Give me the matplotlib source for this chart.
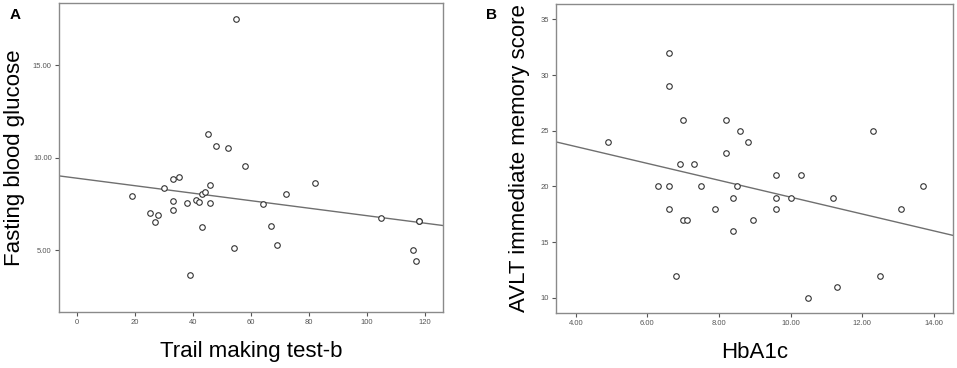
import numpy as np
import matplotlib.pyplot as plt

# Panel A: Trail making test-b vs fasting blood glucose
tmt_b = [55, 19, 25, 28, 27, 30, 33, 35, 33, 33, 38, 39, 41, 42, 43, 44, 43, 46, 46,
         45, 48, 52, 58, 54, 64, 67, 69, 72, 82, 105, 118, 118, 116, 117]
fbg = [17.5, 7.94, 7.02, 6.90, 6.52, 8.34, 8.86, 8.97, 7.64, 7.18, 7.56, 3.65, 7.73, 7.62,
       8.01, 8.14, 6.23, 8.50, 7.52, 11.28, 10.61, 10.54, 9.55, 5.09, 7.51, 6.32, 5.27,
       8.01, 8.61, 6.73, 6.59, 6.59, 5.02, 4.40]

# Panel B: HbA1c vs AVLT immediate memory score
hba1c = [4.9, 6.3, 6.6, 6.6, 6.6, 6.6, 6.8, 6.9, 7.0, 7.0, 7.1, 7.3, 7.5, 7.9, 8.2, 8.2,
         8.4, 8.4, 8.5, 8.6, 8.8, 8.95, 9.6, 9.6, 9.6, 10.0, 10.3, 10.5, 11.2, 11.3, 12.3,
         12.5, 13.1, 13.7]
avlt = [24, 20, 20, 18, 32, 29, 12, 22, 26, 17, 17, 22, 20, 18, 26, 23,
        19, 16, 20, 25, 24, 17, 21, 19, 18, 19, 21, 10, 19, 11, 25,
        12, 18, 20]

plt.rcParams['font.family'] = ['Liberation Sans', 'DejaVu Sans']

fig = plt.figure(figsize=(9.57, 3.68), dpi=100)
axA = fig.add_axes([0.0613, 0.153, 0.4016, 0.838])
axB = fig.add_axes([0.5807, 0.150, 0.4151, 0.839])


def draw(ax, x, y, xlim, ylim, xticks, yticks, xfmt, yfmt, xlabel, ylabel, ylx):
    ax.scatter(x, y, s=16, facecolors='white', edgecolors='#333333', linewidths=0.8, zorder=3)
    # regression line
    k, b = np.polyfit(x, y, 1)
    xs = np.array(xlim)
    ax.plot(xs, k * xs + b, color='#6f6f6f', lw=1.0, zorder=2)
    ax.set_xlim(xlim)
    ax.set_ylim(ylim)
    ax.set_xticks(xticks)
    ax.set_yticks(yticks)
    ax.set_xticklabels([xfmt % t for t in xticks])
    ax.set_yticklabels([yfmt % t for t in yticks])
    for s in ax.spines.values():
        s.set_color('#8a8a8a')
        s.set_linewidth(1.0)
    ax.tick_params(direction='out', length=3, width=0.8, color='#555555',
                   labelsize=5.5, labelcolor='#555555', pad=2)
    ax.set_xlabel(xlabel, fontsize=16)
    ax.set_ylabel(ylabel, fontsize=16)
    ax.xaxis.set_label_coords(0.5, -0.13)
    ax.xaxis.label.set_va('center')
    ax.yaxis.set_label_coords(ylx, 0.5)
    ax.yaxis.label.set_va('center')


draw(axA, tmt_b, fbg, (-6.4, 126.3), (1.66, 18.36), [0, 20, 40, 60, 80, 100, 120],
     [5, 10, 15], '%d', '%.2f', 'Trail making test-b', 'Fasting blood glucose', -0.114)
draw(axB, hba1c, avlt, (3.44, 14.54), (8.65, 36.38), [4, 6, 8, 10, 12, 14],
     [10, 15, 20, 25, 30, 35], '%.2f', '%d', 'HbA1c', 'AVLT immediate memory score', -0.09)

fig.text(15 / 957, 1 - 15 / 368, 'A', fontsize=11, fontweight='bold', ha='center', va='center')
fig.text(491 / 957, 1 - 15 / 368, 'B', fontsize=11, fontweight='bold', ha='center', va='center')

fig.savefig('out.png', dpi=100)
